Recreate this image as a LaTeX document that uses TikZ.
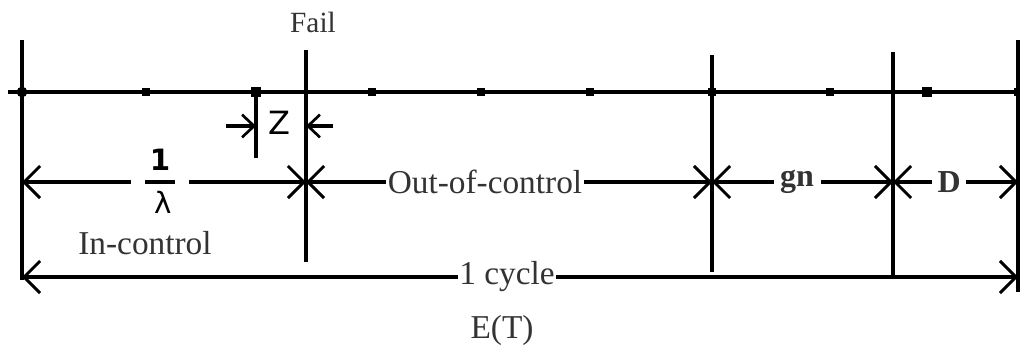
\documentclass[tikz,border=0pt]{standalone}
\usepackage{fontspec}
\setmainfont{Liberation Serif}
\newfontfamily\symfont{DejaVu Sans}
\usetikzlibrary{arrows.meta}
\tikzset{
  ln/.style={line width=2.8pt, line cap=butt},
  dim/.style={line width=2.8pt, {Straight Barb[length=12pt,width=24pt,line width=2.2pt]}-{Straight Barb[length=12pt,width=24pt,line width=2.2pt]}},
  zarr/.style={line width=2.6pt, -{Straight Barb[length=9pt,width=17pt,line width=2pt]}},
  lbl/.style={font=\fontsize{25}{28}\selectfont, text=black!80, inner sep=1pt},
  cut/.style={lbl, fill=white, inner sep=3pt},
  dot/.style={fill=black, minimum size=6pt, inner sep=0pt, draw=none, rectangle},
}
\begin{document}
\begin{tikzpicture}[x=0.75pt,y=-0.75pt]
\useasboundingbox (0,0) rectangle (1020,347);
% coordinates
\coordinate (L0) at (8,92);
\coordinate (R0) at (1020,92);
\coordinate (aT) at (22,40);   \coordinate (aB) at (22,280);
\coordinate (fT) at (306,50);  \coordinate (fB) at (306,262);
\coordinate (zT) at (256,92);  \coordinate (zB) at (256,158);
\coordinate (gT) at (712,55);  \coordinate (gB) at (712,272);
\coordinate (hT) at (893,52);  \coordinate (hB) at (893,278);
\coordinate (eT) at (1018,40); \coordinate (eB) at (1018,292);
% dimension anchors
\coordinate (d0) at (22,182);
\coordinate (d1) at (306,182);
\coordinate (d2) at (712,182);
\coordinate (d3) at (893,182);
\coordinate (d4) at (1018,182);
\coordinate (b0) at (22,277);
\coordinate (b1) at (1018,277);
\coordinate (zl) at (226,126);
\coordinate (zr) at (256,126);
\coordinate (zl2) at (333,126);
\coordinate (zr2) at (306,126);

% main line and verticals
\draw[ln] (L0) -- (R0);
\draw[ln] (aT) -- (aB);
\draw[ln] (fT) -- (fB);
\draw[ln] (zT) -- (zB);
\draw[ln] (gT) -- (gB);
\draw[ln] (hT) -- (hB);
\draw[ln] (eT) -- (eB);

% tick dots
\node[circle, fill=black, minimum size=8pt, inner sep=0pt] (t0) at (22,92) {};
\foreach \x/\n in {146/t1,372/t3,481/t4,590/t5,712/t6,830/t7,1018/t9}
  \node[dot] (\n) at (\x,92) {};
\node[dot, minimum size=7.5pt] (t2) at (256,92) {};
\node[dot, minimum size=7.5pt] (t8) at (927,92) {};

% dimension lines
\draw[dim] (d0) -- (d1);
\draw[dim] (d1) -- (d2) node[cut, midway, xshift=-18pt, inner sep=1pt] (oc) {Out-of-control};
\draw[dim] (d2) -- (d3) node[cut, pos=0.47, font=\fontsize{24}{28}\selectfont\bfseries, inner sep=5pt] (gn) {gn};
\draw[dim] (d3) -- (d4) node[cut, pos=0.45, font=\fontsize{24}{28}\selectfont\bfseries, inner sep=4pt] (D) {D};
\draw[dim] (b0) -- (b1) node[cut, pos=0.487, inner sep=1pt] (cyc) {1 cycle};

% 1/lambda fraction
\fill[white] (131,170) rectangle (189,194);
\draw[line width=2.8pt] (145,182) -- (175,182);
\node[font=\symfont\fontsize{22}{24}\selectfont\bfseries, inner sep=0pt] (one) at (160,160) {1};
\node[font=\symfont\fontsize{22}{24}\selectfont, inner sep=0pt] (lam) at (163,202) {λ};

% Z arrows
\draw[zarr] (zl) -- (zr);
\draw[zarr] (zl2) -- (zr2);
\node[font=\symfont\fontsize{24}{26}\selectfont, inner sep=0pt] (Z) at (279,123) {Z};

% labels
\node[lbl, font=\fontsize{22}{26}\selectfont] (fail) at (313,22) {Fail};
\node[lbl] (inc) at (145,243) {In-control};
\node[lbl] (et) at (502,330) {E(T)};
\end{tikzpicture}
\end{document}
